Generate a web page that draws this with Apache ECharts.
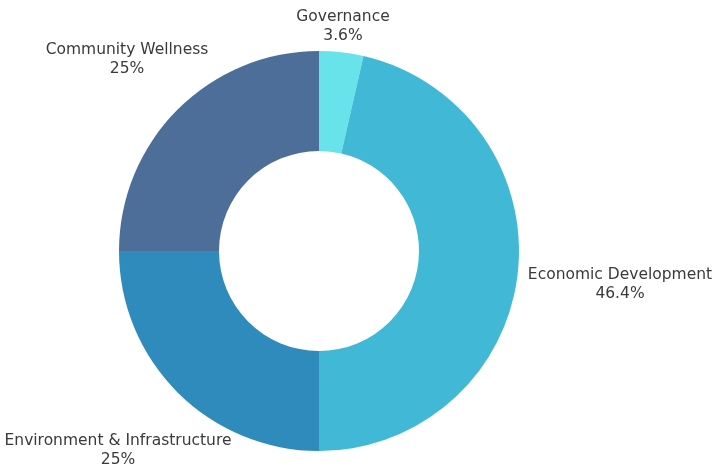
<!DOCTYPE html>
<html>
<head>
<meta charset="utf-8">
<script src="https://cdn.jsdelivr.net/npm/echarts@6/dist/echarts.min.js"></script>
<style>
  html, body { margin: 0; padding: 0; background: #ffffff; }
  #chart { width: 714px; height: 470px; }
</style>
</head>
<body>
<div id="chart"></div>
<script>
// Project counts by program area
const categories = ['Governance', 'Economic Development', 'Environment & Infrastructure', 'Community Wellness'];
const projectCounts = [1, 13, 7, 7];
const sliceColors = ['#68E3E9', '#42B8D7', '#2E8BBB', '#4E6E9A'];

// Where each two-line label block sits (centre of the text)
const labelCentres = [[343, 26], [620, 284], [118, 450], [127, 59]];

const chart = echarts.init(document.getElementById('chart'), null, { renderer: 'canvas' });

chart.setOption({
  backgroundColor: '#ffffff',
  textStyle: { fontFamily: 'DejaVu Sans' },
  series: [{
    type: 'pie',
    center: [319, 251],
    radius: [100, 200],
    startAngle: 90,
    clockwise: true,
    avoidLabelOverlap: false,
    silent: true,
    itemStyle: { borderWidth: 0 },
    label: {
      show: true,
      position: 'outside',
      color: '#3a3a3a',
      fontSize: 15.5,
      lineHeight: 19,
      align: 'center',
      formatter: function (p) {
        const pct = +(p.percent).toFixed(1);
        return p.name + '\n' + pct + '%';
      }
    },
    labelLine: { show: false },
    labelLayout: function (params) {
      const c = labelCentres[params.dataIndex];
      return { x: c[0], y: c[1], align: 'center', verticalAlign: 'middle' };
    },
    data: categories.map(function (name, i) {
      return { name: name, value: projectCounts[i], itemStyle: { color: sliceColors[i] } };
    })
  }]
});
</script>
</body>
</html>
